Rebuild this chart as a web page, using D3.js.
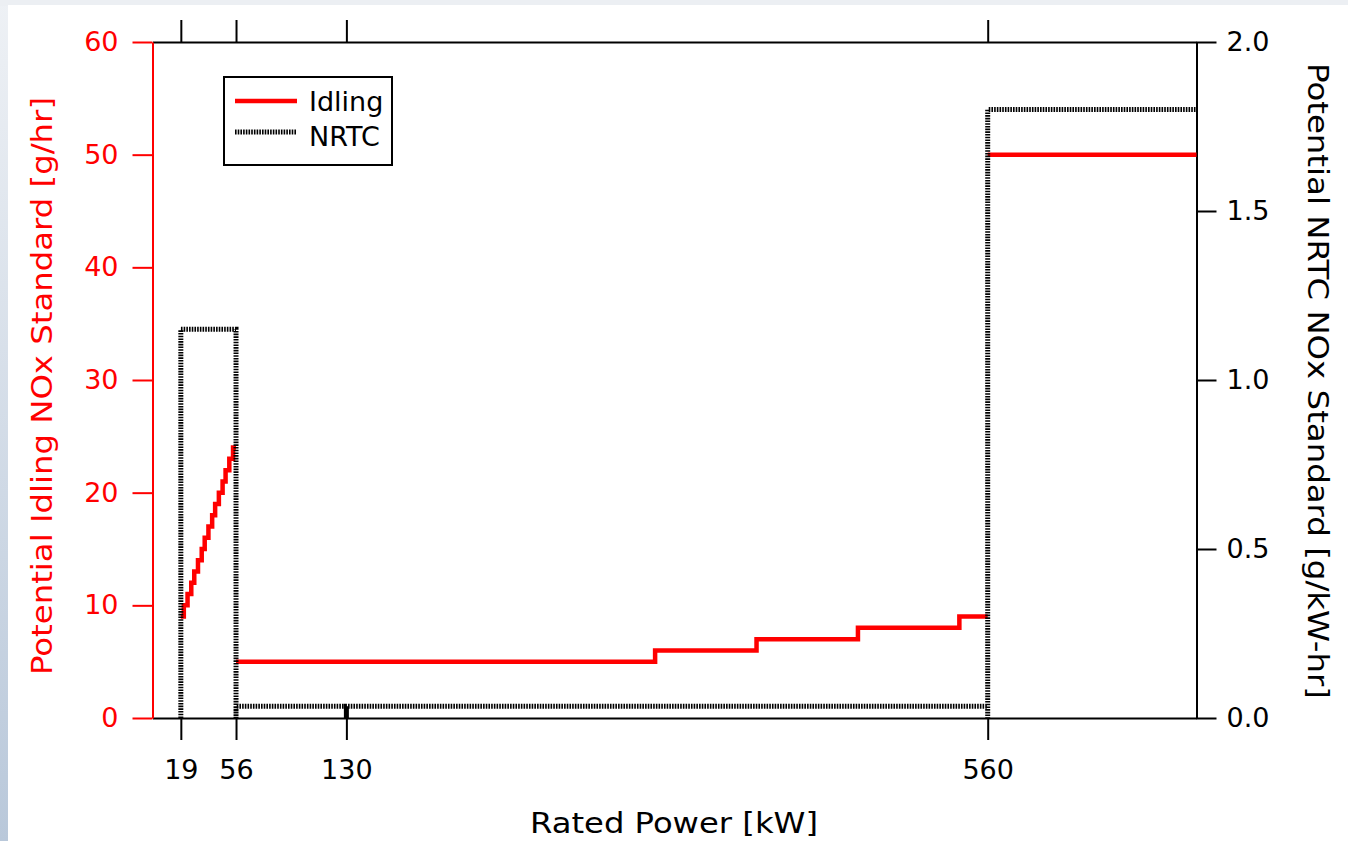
<!DOCTYPE html>
<html>
<head>
<meta charset="utf-8">
<script src="https://cdn.jsdelivr.net/npm/d3@7"></script>
<style>
  body { margin: 0; background: #fff; }
  svg { display: block; }
  text { font-family: "DejaVu Sans", Verdana, sans-serif; }
</style>
</head>
<body>
<div id="chart"></div>
<script>
// idling step line (g/hr), null breaks the line
var idlingKw  = [19, 21, 23.5, 26, 28, 30.5, 33, 35, 37.5, 40, 42, 44.5, 47, 49, 51.5, 54, 56, null, 56, 337, 405, 473, 541, 560, null, 560, 700];
var idlingVal = [9, 10, 11, 12, 13, 14, 15, 16, 17, 18, 19, 20, 21, 22, 23, 24, 24, null, 5, 6, 7, 8, 9, 9, null, 50, 50];

// NRTC standard (g/kW-hr)
var nrtcKw  = [19, 19, 56, 56, 56, 130, 130, 130, 560, 560, 560, 700];
var nrtcVal = [0, 1.15, 1.15, 0, 0.035, 0.035, 0, 0.035, 0.035, 0, 1.8, 1.8];

var xTicks = [19, 56, 130, 560];
var leftTicks = [0, 10, 20, 30, 40, 50, 60];
var rightTicks = [0, 0.5, 1.0, 1.5, 2.0];

let width = 1348;
let height = 841;

let svg = d3.select('#chart')
  .append('svg')
  .attr('width', width)
  .attr('height', height)

/** slide background */
let defs = svg.append('defs')
let grad = defs.append('linearGradient')
  .attr('id', 'bg')
  .attr('x1', 0).attr('y1', 0).attr('x2', 0).attr('y2', 1)
grad.append('stop').attr('offset', '0%').attr('stop-color', '#eef1f5')
grad.append('stop').attr('offset', '100%').attr('stop-color', '#b9c8da')

svg.append('rect').attr('width', width).attr('height', height).attr('fill', 'url(#bg)')
svg.append('rect').attr('width', width).attr('height', 6).attr('fill', '#eceff3')
svg.append('rect').attr('x', 8).attr('y', 5).attr('width', width - 8).attr('height', height - 5).attr('fill', '#fff')

/** scales */
let x = d3.scaleLinear().domain([0, 700]).range([152.5, 1196.5])
let yL = d3.scaleLinear().domain([0, 60]).range([718, 42])
let yR = d3.scaleLinear().domain([0, 2]).range([718, 42])

/** axes */
let gLeft = svg.append('g')
  .attr('transform', `translate(${x(0)},0)`)
  .call(d3.axisLeft(yL).tickValues(leftTicks).tickSize(20).tickSizeOuter(0).tickPadding(14))
gLeft.selectAll('path, line').attr('stroke', '#ff0000').attr('stroke-width', 2)
gLeft.selectAll('text').attr('fill', '#ff0000').style('font-size', '27px')

let gRight = svg.append('g')
  .attr('transform', `translate(${x(700)},0)`)
  .call(d3.axisRight(yR).tickValues(rightTicks).tickFormat(d3.format('.1f')).tickSize(20).tickSizeOuter(0).tickPadding(10))
gRight.selectAll('path, line').attr('stroke', '#000').attr('stroke-width', 2)
gRight.selectAll('text').attr('fill', '#000').style('font-size', '27px')

let gBottom = svg.append('g')
  .attr('transform', `translate(0,${yL(0)})`)
  .call(d3.axisBottom(x).tickValues(xTicks).tickSize(22).tickSizeOuter(0).tickPadding(20))
gBottom.selectAll('path, line').attr('stroke', '#000').attr('stroke-width', 2)
gBottom.selectAll('text').attr('fill', '#000').style('font-size', '27px')

let gTop = svg.append('g')
  .attr('transform', `translate(0,${yL(60)})`)
  .call(d3.axisTop(x).tickValues(xTicks).tickSize(22).tickSizeOuter(0).tickFormat(''))
gTop.selectAll('path, line').attr('stroke', '#000').attr('stroke-width', 2)

// left axis drawn over the corner of the frame
gLeft.raise()

/** lines */
let idling = idlingKw.map((k, i) => ({ k: k, v: idlingVal[i] }))
let nrtc = nrtcKw.map((k, i) => ({ k: k, v: nrtcVal[i] }))

let idleLine = d3.line()
  .defined(d => d.k !== null)
  .curve(d3.curveStepAfter)
  .x(d => x(d.k))
  .y(d => yL(d.v))

let nrtcLine = d3.line()
  .x(d => x(d.k))
  .y(d => yR(d.v))

svg.append('path')
  .datum(idling)
  .attr('d', idleLine)
  .attr('fill', 'none')
  .attr('stroke', '#ff0000')
  .attr('stroke-width', 4.5)

svg.append('path')
  .datum(nrtc)
  .attr('d', nrtcLine)
  .attr('fill', 'none')
  .attr('stroke', '#000')
  .attr('stroke-width', 5)
  .attr('stroke-dasharray', '1.6,1.1')

/** legend */
let legend = svg.append('g')
legend.append('rect')
  .attr('x', 224).attr('y', 77).attr('width', 168).attr('height', 88)
  .attr('fill', '#fff').attr('stroke', '#000').attr('stroke-width', 2)
legend.append('line')
  .attr('x1', 235).attr('x2', 297).attr('y1', 101).attr('y2', 101)
  .attr('stroke', '#ff0000').attr('stroke-width', 4.5)
legend.append('line')
  .attr('x1', 235).attr('x2', 297).attr('y1', 132).attr('y2', 132)
  .attr('stroke', '#000').attr('stroke-width', 5).attr('stroke-dasharray', '1.6,1.1')
legend.append('text').attr('x', 309).attr('y', 111).style('font-size', '27px').text('Idling')
legend.append('text').attr('x', 309).attr('y', 146).style('font-size', '27px').text('NRTC')

/** axis titles */
svg.append('text')
  .attr('transform', 'translate(52,386) rotate(-90)')
  .attr('text-anchor', 'middle')
  .attr('fill', '#ff0000')
  .style('font-size', '28px')
  .attr('textLength', 578)
  .attr('lengthAdjust', 'spacingAndGlyphs')
  .text('Potential Idling NOx Standard [g/hr]')

svg.append('text')
  .attr('transform', 'translate(1308,381) rotate(90)')
  .attr('text-anchor', 'middle')
  .attr('fill', '#000')
  .style('font-size', '29px')
  .attr('textLength', 636)
  .attr('lengthAdjust', 'spacingAndGlyphs')
  .text('Potential NRTC NOx Standard [g/kW-hr]')

svg.append('text')
  .attr('x', 674)
  .attr('y', 833)
  .attr('text-anchor', 'middle')
  .attr('fill', '#000')
  .style('font-size', '29px')
  .attr('textLength', 288)
  .attr('lengthAdjust', 'spacingAndGlyphs')
  .text('Rated Power [kW]')
</script>
</body>
</html>
